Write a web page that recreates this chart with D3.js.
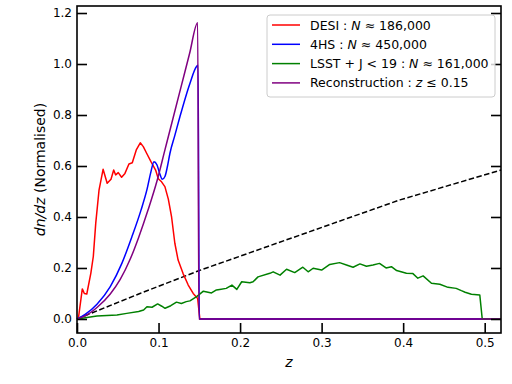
<!DOCTYPE html>
<html>
<head>
<meta charset="utf-8">
<script src="https://cdn.jsdelivr.net/npm/d3@7"></script>
<style>
  body { margin: 0; background: #fff; }
  text { font-family: "DejaVu Sans", sans-serif; }
</style>
</head>
<body>
<div id="chart"></div>
<script>
// values (z, dn/dz)
const desiZ = [0, 0.0016, 0.0065, 0.009, 0.012, 0.017, 0.020, 0.023, 0.027, 0.032, 0.037, 0.0417, 0.045, 0.0474, 0.0506, 0.0547, 0.0588, 0.0637, 0.0678, 0.0727, 0.0776, 0.0813, 0.0854, 0.0907, 0.0964, 0.0997, 0.1037, 0.1078, 0.112, 0.116, 0.120, 0.124, 0.130, 0.1364, 0.1425, 0.148, 0.1495, 0.1507, 0.52];
const desiN = [0, 0.0, 0.118, 0.10, 0.098, 0.18, 0.245, 0.376, 0.505, 0.587, 0.532, 0.548, 0.584, 0.565, 0.574, 0.556, 0.571, 0.608, 0.613, 0.663, 0.691, 0.676, 0.65, 0.617, 0.584, 0.55, 0.538, 0.519, 0.47, 0.40, 0.297, 0.231, 0.179, 0.133, 0.10, 0.08, 0.035, 0, 0];

const hsZ = [0, 0.01, 0.0245, 0.0408, 0.055, 0.0674, 0.0785, 0.086, 0.0905, 0.0944, 0.098, 0.1015, 0.1046, 0.108, 0.111, 0.114, 0.12, 0.1262, 0.1385, 0.1466, 0.1485, 0.15, 0.52];
const hsN = [0, 0.018, 0.058, 0.127, 0.218, 0.323, 0.427, 0.51, 0.575, 0.617, 0.605, 0.57, 0.548, 0.56, 0.60, 0.65, 0.72, 0.793, 0.924, 0.99, 0.995, 0, 0];

const lsstZ = [0, 0.0245, 0.049, 0.061, 0.0756, 0.0817, 0.0858, 0.092, 0.0989, 0.104, 0.108, 0.115, 0.122, 0.128, 0.134, 0.1385, 0.1467, 0.155, 0.165, 0.171, 0.175, 0.183, 0.19, 0.196, 0.202, 0.212, 0.216, 0.222, 0.2365, 0.2406, 0.249, 0.257, 0.267, 0.277, 0.2835, 0.2896, 0.30, 0.31, 0.322, 0.3305, 0.3386, 0.347, 0.355, 0.363, 0.371, 0.379, 0.3856, 0.392, 0.404, 0.412, 0.418, 0.4245, 0.4347, 0.445, 0.455, 0.465, 0.4714, 0.476, 0.4837, 0.494, 0.497, 0.52];
const lsstN = [0, 0.012, 0.016, 0.022, 0.029, 0.035, 0.048, 0.046, 0.059, 0.05, 0.042, 0.052, 0.066, 0.061, 0.068, 0.071, 0.088, 0.109, 0.102, 0.114, 0.116, 0.12, 0.133, 0.116, 0.146, 0.142, 0.146, 0.165, 0.179, 0.185, 0.172, 0.195, 0.182, 0.203, 0.185, 0.199, 0.192, 0.214, 0.221, 0.212, 0.203, 0.216, 0.207, 0.212, 0.218, 0.2, 0.205, 0.19, 0.179, 0.178, 0.16, 0.169, 0.14, 0.136, 0.124, 0.12, 0.111, 0.105, 0.097, 0.094, 0, 0];

const recoZ = [0, 0.01, 0.0245, 0.0408, 0.053, 0.0653, 0.0756, 0.0874, 0.098, 0.108, 0.118, 0.128, 0.138, 0.148, 0.1495, 0.52];
const recoN = [0, 0.012, 0.045, 0.098, 0.155, 0.235, 0.32, 0.43, 0.54, 0.665, 0.79, 0.915, 1.04, 1.162, 0, 0];

const refZ = [0, 0.0772, 0.15, 0.396, 0.52];
const refN = [0, 0.10, 0.19, 0.467, 0.584];

const xTicks = [0, 0.1, 0.2, 0.3, 0.4, 0.5];
const yTicks = [0, 0.2, 0.4, 0.6, 0.8, 1.0, 1.2];

const W = 512, H = 384;
const L = 77, R = 501, T = 6, B = 333;

const svg = d3.select('#chart').append('svg')
  .attr('width', W)
  .attr('height', H);

const x = d3.scaleLinear().domain([0, 0.52]).range([L, R]);
const y = d3.scaleLinear().domain([-0.055, 1.2275]).range([B, T]);

const line = d3.line()
  .x(d => x(d[0]))
  .y(d => y(d[1]));
const smoothLine = d3.line()
  .x(d => x(d[0]))
  .y(d => y(d[1]))
  .curve(d3.curveMonotoneX);

function pairs(zs, ns) {
  return zs.map((z, i) => [z, ns[i]]);
}

const series = [
  {name: 'desi', z: desiZ, n: desiN, color: '#ff0000', gen: line},
  {name: '4hs', z: hsZ, n: hsN, color: '#0000ff', gen: smoothLine},
  {name: 'lsst', z: lsstZ, n: lsstN, color: '#008000', gen: line},
  {name: 'reco', z: recoZ, n: recoN, color: '#800080', gen: smoothLine}
];

const plot = svg.append('g');

// dashed reference line first (under the others)
plot.append('path')
  .datum(pairs(refZ, refN))
  .attr('d', line)
  .attr('fill', 'none')
  .attr('stroke', '#000')
  .attr('stroke-width', 1.5)
  .attr('stroke-dasharray', '5.5,2.5');

series.forEach(s => {
  plot.append('path')
    .datum(pairs(s.z, s.n))
    .attr('d', s.gen)
    .attr('fill', 'none')
    .attr('stroke', s.color)
    .attr('stroke-width', 1.5)
    .attr('stroke-linejoin', 'round');
});

// axes, ticks pointing inward
const xAxis = svg.append('g')
  .attr('transform', 'translate(0,' + B + ')')
  .call(d3.axisBottom(x).tickValues(xTicks).tickFormat(d3.format('.1f')).tickSize(-10).tickPadding(5));
const yAxis = svg.append('g')
  .attr('transform', 'translate(' + L + ',0)')
  .call(d3.axisLeft(y).tickValues(yTicks).tickFormat(d3.format('.1f')).tickSize(-10).tickPadding(5));
const yAxisR = svg.append('g')
  .attr('transform', 'translate(' + R + ',0)')
  .call(d3.axisRight(y).tickValues(yTicks).tickFormat('').tickSize(-10));

[xAxis, yAxis, yAxisR].forEach(a => {
  a.select('.domain').remove();
  a.selectAll('line').attr('stroke', '#000').attr('stroke-width', 1.6);
  a.selectAll('text').attr('font-size', 12).attr('fill', '#000').attr('font-family', 'DejaVu Sans');
});

// frame
svg.append('rect')
  .attr('x', L).attr('y', T)
  .attr('width', R - L).attr('height', B - T)
  .attr('fill', 'none')
  .attr('stroke', '#000')
  .attr('stroke-width', 1.6);

// axis labels
svg.append('text')
  .attr('x', (L + R) / 2)
  .attr('y', 367)
  .attr('text-anchor', 'middle')
  .attr('font-size', 14)
  .attr('font-style', 'italic')
  .text('z');

const yl = svg.append('text')
  .attr('transform', 'translate(45,' + ((T + B) / 2) + ') rotate(-90)')
  .attr('text-anchor', 'middle')
  .attr('font-size', 14);
yl.append('tspan').attr('font-style', 'italic').text('dn/dz');
yl.append('tspan').text(' (Normalised)');

// legend
const legend = svg.append('g');
legend.append('rect')
  .attr('x', 267).attr('y', 15)
  .attr('width', 228).attr('height', 82)
  .attr('rx', 3)
  .attr('fill', '#fff').attr('fill-opacity', 0.8)
  .attr('stroke', '#cccccc').attr('stroke-width', 1);

const legendText = [
  [['DESI : ', false], ['N', true], [' ≈ 186,000', false]],
  [['4HS : ', false], ['N', true], [' ≈ 450,000', false]],
  [['LSST + J < 19 : ', false], ['N', true], [' ≈ 161,000', false]],
  [['Reconstruction : ', false], ['z', true], [' ≤ 0.15', false]]
];

series.forEach((s, i) => {
  const ly = 25 + i * 19.3;
  legend.append('line')
    .attr('x1', 272).attr('x2', 300)
    .attr('y1', ly).attr('y2', ly)
    .attr('stroke', s.color).attr('stroke-width', 1.5);
  const t = legend.append('text')
    .attr('x', 310).attr('y', ly + 4.5)
    .attr('font-size', 12.5);
  legendText[i].forEach(p => {
    t.append('tspan').attr('font-style', p[1] ? 'italic' : 'normal').text(p[0]);
  });
});
</script>
</body>
</html>
